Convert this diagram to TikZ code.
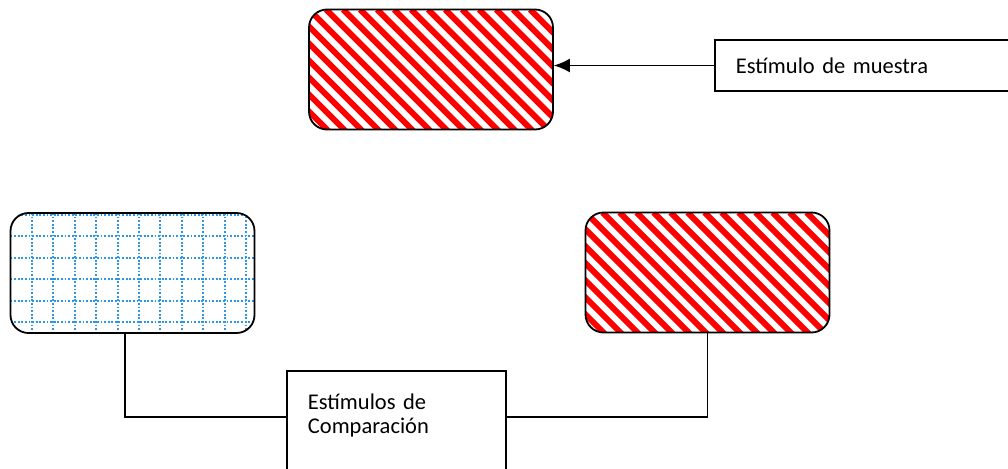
\documentclass[tikz,border=0pt]{standalone}
\usepackage{fontspec}
\setmainfont{Carlito}[WordSpace=0.85]
\usetikzlibrary{arrows.meta}
\begin{document}
\begin{tikzpicture}[x=1pt, y=-1pt,
      font=\fontsize{22.5pt}{23.5pt}\selectfont,
      stim/.style={draw, line width=1.8pt, rounded corners=18pt,
        minimum width=244pt, minimum height=120pt, inner sep=0pt},
      stripefill/.style={path picture={
        \foreach \k in {-9,...,15}
          \draw[red, line width=6pt]
            ([xshift=\k*17pt]path picture bounding box.north west) -- ++(150pt,-150pt);
      }},
      gridline/.style={draw={rgb,255:red,45;green,150;blue,230}, line width=2pt,
        dash pattern=on 1.8pt off 1.8pt},
      gridfill/.style={path picture={
        \foreach \k in {1,...,11}
          \draw[gridline]
            ([xshift=\k*21.4pt]path picture bounding box.north west) -- ++(0,-130pt);
        \foreach \k in {0,...,5}
          \draw[gridline]
            ([yshift={-(2+\k*21.4)*1pt}]path picture bounding box.north west) -- ++(260pt,0);
      }},
      labelbox/.style={draw, line width=1.8pt, align=left, inner xsep=21pt}
    ]
    \path[use as bounding box, clip] (0,0) rectangle (1008,468);

    % sample stimulus
    \node[stim, stripefill] (sample) at (431,69.5) {};
    \node[labelbox, anchor=west, text width=270pt, minimum height=51pt]
      (samplelabel) at (714,65.5) {Estímulo de muestra};

    % comparison stimuli
    \node[stim, gridfill] (compA) at (132.5,273) {};
    \node[stim, stripefill] (compB) at (707.5,272.5) {};
    \node[labelbox, anchor=north west, text width=177pt, inner ysep=23pt, text depth=90pt]
      (complabel) at (286,370) {Estímulos de\\Comparación};

    \draw[line width=1.5pt, -{Latex[length=16pt,width=14pt]}]
      (samplelabel.west) -- (samplelabel.west -| sample.east);
    \draw[line width=1.8pt] ([xshift=-7.5pt]compA.south) |- ([yshift=-47pt]complabel.north west);
    \draw[line width=1.8pt] (compB.south) |- ([yshift=-47pt]complabel.north east);

\end{tikzpicture}
\end{document}
